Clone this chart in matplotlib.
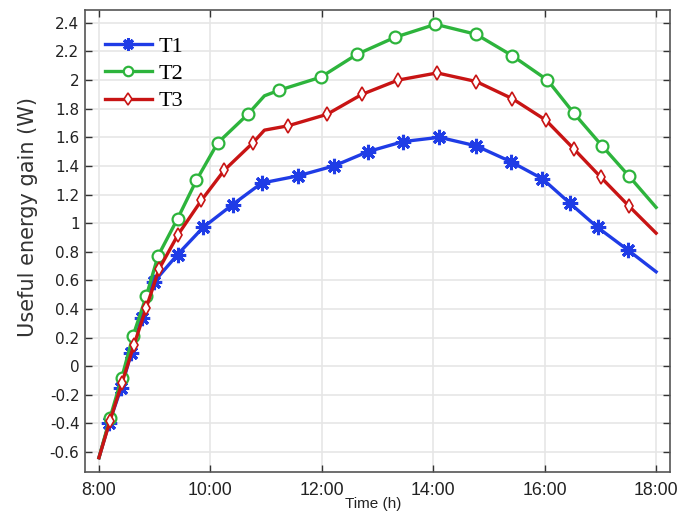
import matplotlib.pyplot as plt
import numpy as np

# marker points (time in hours, gain in W)
t1_time = [8.18, 8.40, 8.58, 8.77, 8.99, 9.41, 9.87, 10.40, 10.92, 11.57,
           12.22, 12.83, 13.46, 14.11, 14.77, 15.39, 15.96, 16.45, 16.95, 17.50]
t1_gain = [-0.40, -0.15, 0.09, 0.34, 0.59, 0.78, 0.97, 1.13, 1.28, 1.33,
           1.40, 1.50, 1.57, 1.60, 1.54, 1.43, 1.31, 1.14, 0.97, 0.81]

t2_time = [8.20, 8.41, 8.61, 8.85, 9.06, 9.41, 9.75, 10.13, 10.67, 11.24,
           11.98, 12.63, 13.32, 14.04, 14.77, 15.42, 16.05, 16.52, 17.03, 17.51]
t2_gain = [-0.36, -0.08, 0.21, 0.49, 0.77, 1.03, 1.30, 1.56, 1.76, 1.93,
           2.02, 2.18, 2.30, 2.39, 2.32, 2.17, 2.00, 1.77, 1.54, 1.33]

t3_time = [8.20, 8.41, 8.63, 8.85, 9.08, 9.42, 9.84, 10.25, 10.76, 11.39,
           12.09, 12.72, 13.37, 14.07, 14.77, 15.42, 16.02, 16.52, 17.01, 17.51]
t3_gain = [-0.38, -0.12, 0.15, 0.41, 0.68, 0.92, 1.16, 1.37, 1.56, 1.68,
           1.76, 1.90, 2.00, 2.05, 1.99, 1.87, 1.72, 1.52, 1.32, 1.12]

# extra points on the curves that carry no marker
t1_extra_time = [8.0, 18.0]
t1_extra_gain = [-0.64, 0.66]
t2_extra_time = [8.0, 10.97, 18.0]
t2_extra_gain = [-0.64, 1.89, 1.11]
t3_extra_time = [8.0, 10.97, 18.0]
t3_extra_gain = [-0.64, 1.65, 0.93]

x_ticks = [8, 10, 12, 14, 16, 18]
x_labels = ['8:00', '10:00', '12:00', '14:00', '16:00', '18:00']
y_ticks = [-0.6, -0.4, -0.2, 0, 0.2, 0.4, 0.6, 0.8, 1.0, 1.2, 1.4,
           1.6, 1.8, 2.0, 2.2, 2.4]


def merge(tm, vm, te, ve):
    t = np.array(tm + te)
    v = np.array(vm + ve)
    flag = np.array([True] * len(tm) + [False] * len(te))
    order = np.argsort(t)
    t, v, flag = t[order], v[order], flag[order]
    return t, v, list(np.where(flag)[0])


fig = plt.figure(figsize=(6.77, 5.12), dpi=100)
ax = fig.add_axes([0.1256, 0.0781, 0.8641, 0.9024])

t, v, idx = merge(t1_time, t1_gain, t1_extra_time, t1_extra_gain)
ax.plot(t, v, color='#1f3ce6', lw=2.4, marker=(8, 2, 0), ms=11, mew=2.2,
        markevery=idx, label='T1')
t, v, idx = merge(t2_time, t2_gain, t2_extra_time, t2_extra_gain)
ax.plot(t, v, color='#2db43c', lw=2.4, marker='o', ms=8.5, mew=1.6,
        mfc='white', markevery=idx, label='T2')
t, v, idx = merge(t3_time, t3_gain, t3_extra_time, t3_extra_gain)
ax.plot(t, v, color='#c81414', lw=2.4, marker='d', ms=7.5, mew=1.2,
        mfc='white', markevery=idx, label='T3')

ax.set_xlim(7.75, 18.25)
ax.set_ylim(-0.74, 2.49)
ax.set_xticks(x_ticks)
ax.set_xticklabels(x_labels, fontsize=12.8, family='Liberation Sans', color='#222222')
ax.set_yticks(y_ticks)
ax.set_yticklabels(['%g' % round(y, 1) for y in y_ticks], fontsize=11,
                   color='#222222')
ax.tick_params(direction='in', top=True, right=True, length=5, width=1,
               color='#333333')
ax.tick_params(axis='x', pad=7)
ax.tick_params(axis='y', pad=4)
ax.grid(True, color='#e6e6e6', lw=1.2)
ax.set_axisbelow(True)
for s in ax.spines.values():
    s.set_color('#555555')
    s.set_linewidth(1.2)

ax.set_ylabel('Useful energy gain (W)', fontsize=15, color='#333333')
ax.yaxis.set_label_coords(-0.081, 0.552)
ax.set_xlabel('Time (h)', fontsize=11, family='Liberation Sans', color='#222222')
ax.xaxis.set_label_coords(0.492, -0.055)

ax.legend(loc='upper left', bbox_to_anchor=(0.034, 0.943), frameon=False,
          prop={'family': 'Liberation Serif', 'size': 16},
          handlelength=2.1, handletextpad=0.3, labelspacing=0.3,
          borderaxespad=0, borderpad=0, markerscale=0.8)

fig.savefig('out.png', dpi=100)
